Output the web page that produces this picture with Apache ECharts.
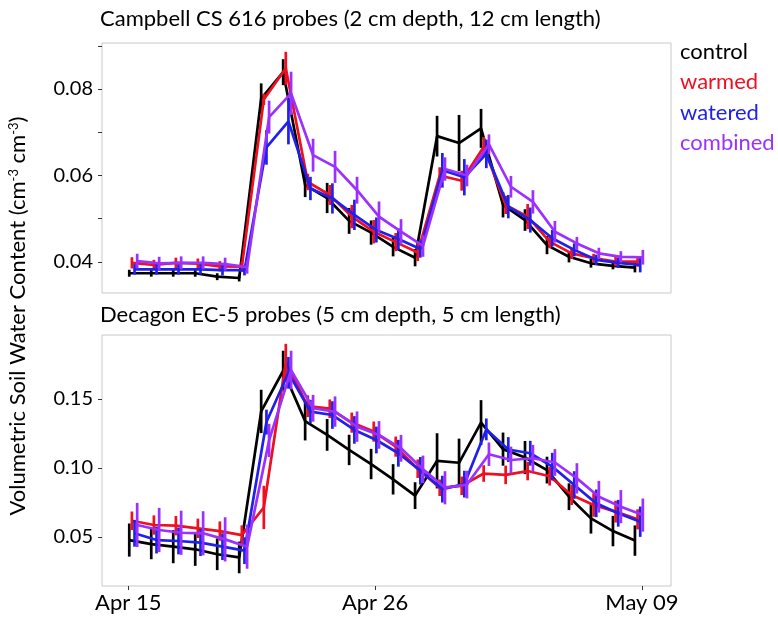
<!DOCTYPE html>
<html>
<head>
<meta charset="utf-8">
<script src="https://cdn.jsdelivr.net/npm/echarts@6/dist/echarts.min.js"></script>
<style>
html,body{margin:0;padding:0;background:#fff;}
#chart{width:778px;height:618px;}
</style>
</head>
<body>
<div id="chart"></div>
<script>
// ---- data ----
const pointIndex = [0,1,2,3,4,5,6,7,8,9,10,11,12,13,14,15,16,17,18,19,20,21,22,23];
const dateTickLabels = ['Apr 15', 'Apr 26', 'May 09'];
const dateTickPos = [-0.225, 11.0, 23.14];
const treatments = ['control', 'warmed', 'watered', 'combined'];

const panelTitles = ['Campbell CS 616 probes (2 cm depth, 12 cm length)', 'Decagon EC-5 probes (5 cm depth, 5 cm length)'];
const topTickLabels = [0.04, 0.06, 0.08];
const topTickMarks = [0.04, 0.05, 0.06, 0.07, 0.08, 0.09];
const botTickLabels = [0.05, 0.10, 0.15];

// Campbell (top panel)
const controlTop = [0.0374,0.0374,0.0374,0.0374,0.0366,0.0363,0.0778,0.0839,0.0578,0.0548,0.0495,0.0468,0.0435,0.0410,0.0691,0.0675,0.0709,0.0532,0.0497,0.0439,0.0412,0.0397,0.0391,0.0387];
const controlTopErr = [0.0008,0.0008,0.0008,0.0008,0.0008,0.0008,0.0035,0.0030,0.0028,0.0035,0.0030,0.0028,0.0022,0.0020,0.0047,0.0065,0.0045,0.0029,0.0025,0.0021,0.0013,0.0010,0.0008,0.0011];
const warmedTop = [0.0398,0.0393,0.0398,0.0396,0.0390,0.0389,0.0776,0.0848,0.0585,0.0555,0.0505,0.0470,0.0446,0.0422,0.0600,0.0588,0.0666,0.0532,0.0505,0.0447,0.0420,0.0409,0.0401,0.0401];
const warmedTopErr = [0.0013,0.0012,0.0012,0.0012,0.0012,0.0012,0.0013,0.0038,0.0019,0.0023,0.0027,0.0027,0.0021,0.0020,0.0019,0.0023,0.0023,0.0021,0.0029,0.0015,0.0013,0.0010,0.0011,0.0012];
const wateredTop = [0.0383,0.0383,0.0383,0.0383,0.0381,0.0381,0.0665,0.0725,0.0570,0.0547,0.0509,0.0474,0.0453,0.0430,0.0612,0.0596,0.0650,0.0528,0.0497,0.0455,0.0428,0.0405,0.0398,0.0393];
const wateredTopErr = [0.0012,0.0012,0.0012,0.0012,0.0012,0.0012,0.0040,0.0053,0.0027,0.0035,0.0035,0.0029,0.0025,0.0020,0.0040,0.0042,0.0033,0.0027,0.0029,0.0019,0.0015,0.0012,0.0012,0.0017];
const combinedTop = [0.0402,0.0397,0.0398,0.0398,0.0395,0.0388,0.0735,0.0790,0.0647,0.0620,0.0566,0.0505,0.0470,0.0437,0.0615,0.0600,0.0672,0.0574,0.0539,0.0470,0.0443,0.0420,0.0412,0.0411];
const combinedTopErr = [0.0017,0.0015,0.0015,0.0015,0.0015,0.0015,0.0038,0.0050,0.0038,0.0037,0.0031,0.0035,0.0029,0.0025,0.0027,0.0025,0.0023,0.0025,0.0027,0.0025,0.0015,0.0013,0.0013,0.0017];

// Decagon (bottom panel)
const controlBot = [0.0478,0.0449,0.0430,0.0411,0.0375,0.0352,0.1410,0.1705,0.1340,0.1240,0.1131,0.1029,0.0918,0.0800,0.1052,0.1038,0.1329,0.1137,0.1076,0.0985,0.0792,0.0635,0.0543,0.0474];
const controlBotErr = [0.012,0.011,0.012,0.012,0.0115,0.0115,0.0157,0.0145,0.014,0.0115,0.011,0.011,0.011,0.0097,0.020,0.0175,0.0163,0.012,0.012,0.0097,0.0097,0.011,0.011,0.011];
const warmedBot = [0.0618,0.0587,0.0582,0.0563,0.0543,0.0514,0.0714,0.1765,0.1448,0.1430,0.1329,0.1264,0.1155,0.0995,0.0857,0.0871,0.0960,0.0950,0.0978,0.0940,0.0805,0.0732,0.0684,0.0628];
const warmedBotErr = [0.0067,0.007,0.007,0.007,0.007,0.007,0.0157,0.0135,0.0079,0.0067,0.0073,0.0073,0.0073,0.0067,0.006,0.0067,0.006,0.0067,0.0067,0.0067,0.0073,0.0085,0.0079,0.0073];
const wateredBot = [0.0527,0.0478,0.0471,0.0459,0.0430,0.0401,0.1333,0.1690,0.1409,0.1384,0.1276,0.1203,0.1107,0.0980,0.0847,0.0883,0.1280,0.1134,0.1107,0.1010,0.0877,0.0744,0.0672,0.0611];
const wateredBotErr = [0.0097,0.0097,0.0097,0.0097,0.0097,0.0097,0.009,0.0115,0.0085,0.010,0.010,0.0097,0.0097,0.010,0.0097,0.0097,0.0079,0.009,0.009,0.010,0.010,0.010,0.0097,0.011];
const combinedBot = [0.0587,0.0551,0.0531,0.0527,0.0483,0.0430,0.1200,0.1710,0.1433,0.1409,0.1300,0.1240,0.1143,0.0990,0.0857,0.0880,0.1100,0.1058,0.1071,0.1040,0.0925,0.0792,0.0720,0.0659];
const combinedBotErr = [0.016,0.016,0.016,0.016,0.016,0.016,0.012,0.014,0.0097,0.011,0.011,0.010,0.0097,0.010,0.012,0.010,0.0085,0.0097,0.0097,0.0097,0.011,0.0115,0.012,0.012];

// ---- styles ----
const colors = ['#000000', '#ee1020', '#2020ee', '#9b30ff'];
const dodge = [-0.18, -0.06, 0.06, 0.18];
const FONT = 'Lato, "Open Sans", sans-serif';

const panelData = [
  [[controlTop, controlTopErr],[warmedTop, warmedTopErr],[wateredTop, wateredTopErr],[combinedTop, combinedTopErr]],
  [[controlBot, controlBotErr],[warmedBot, warmedBotErr],[wateredBot, wateredBotErr],[combinedBot, combinedBotErr]]
];

const series = [];
panelData.forEach((panel, p) => {
  panel.forEach((pair, g) => {
    const vals = pair[0], errs = pair[1];
    const color = colors[g];
    series.push({
      type: 'line', name: treatments[g], xAxisIndex: p, yAxisIndex: p,
      data: pointIndex.map(i => [i + dodge[g], vals[i]]),
      showSymbol: false, symbol: 'none', silent: true,
      lineStyle: { color: color, width: 2.7 }, itemStyle: { color: color },
      z: 2 + g
    });
    series.push({
      type: 'custom', name: treatments[g], xAxisIndex: p, yAxisIndex: p,
      data: pointIndex.map(i => [i + dodge[g], vals[i], errs[i]]),
      encode: { x: 0, y: 1 },
      itemStyle: { color: color }, silent: true, z: 2 + g,
      renderItem: function (params, api) {
        const x = api.value(0), y = api.value(1), e = api.value(2);
        const a = api.coord([x, y - e]), b = api.coord([x, y + e]);
        return { type: 'line', shape: { x1: a[0], y1: a[1], x2: b[0], y2: b[1] },
                 style: { stroke: color, lineWidth: 2.7 } };
      }
    });
  });
});

const chart = echarts.init(document.getElementById('chart'), null, { renderer: 'canvas' });
const tickStyle = { show: true, length: 4, lineStyle: { color: '#333', width: 1 } };
const noLine = { show: false, onZero: false };
chart.setOption({
  backgroundColor: '#ffffff',
  animation: false,
  title: [
    { text: panelTitles[0], left: 100, top: 8, padding: 0,
      textStyle: { fontFamily: FONT, fontSize: 22, fontWeight: 'normal', color: '#000' } },
    { text: panelTitles[1], left: 100, top: 304, padding: 0,
      textStyle: { fontFamily: FONT, fontSize: 22, fontWeight: 'normal', color: '#000' } }
  ],
  legend: {
    orient: 'vertical', left: 675, top: 41, padding: 0, itemGap: 8.3,
    itemWidth: 0, itemHeight: 0, icon: 'none', selectedMode: false,
    data: treatments.map((t, g) => ({ name: t, textStyle: { color: colors[g] } })),
    textStyle: { fontFamily: FONT, fontSize: 22, lineHeight: 22 }
  },
  grid: [
    { left: 102, right: 107, top: 43, height: 250, show: true, borderColor: '#c8c8c8', borderWidth: 1, backgroundColor: '#fff' },
    { left: 102, right: 107, top: 335, height: 251, show: true, borderColor: '#c8c8c8', borderWidth: 1, backgroundColor: '#fff' }
  ],
  xAxis: [
    { type: 'value', gridIndex: 0, min: -1.42, max: 24.46,
      axisLine: noLine, axisTick: { show: false }, axisLabel: { show: false }, splitLine: { show: false } },
    { type: 'value', gridIndex: 1, min: -1.42, max: 24.46,
      axisLine: noLine, splitLine: { show: false },
      axisTick: Object.assign({ customValues: dateTickPos }, tickStyle),
      axisLabel: { customValues: dateTickPos, margin: 6, fontFamily: FONT, fontSize: 22, color: '#000',
        formatter: v => { const k = dateTickPos.findIndex(t => Math.abs(t - v) < 1e-6); return k >= 0 ? dateTickLabels[k] : ''; } } }
  ],
  yAxis: [
    { type: 'value', gridIndex: 0, min: 0.03283, max: 0.09064,
      axisLine: noLine, splitLine: { show: false },
      axisTick: Object.assign({ customValues: topTickMarks }, tickStyle),
      axisLabel: { customValues: topTickLabels, margin: 9, fontFamily: FONT, fontSize: 20, color: '#000',
        formatter: v => v.toFixed(2) } },
    { type: 'value', gridIndex: 1, min: 0.0145, max: 0.1964,
      axisLine: noLine, splitLine: { show: false },
      axisTick: Object.assign({ customValues: botTickLabels }, tickStyle),
      axisLabel: { customValues: botTickLabels, margin: 9, fontFamily: FONT, fontSize: 20, color: '#000',
        formatter: v => v.toFixed(2) } }
  ],
  graphic: [
    { type: 'text', x: 18, y: 316, rotation: Math.PI / 2,
      style: {
        text: 'Volumetric Soil Water Content (cm{sup|-3} cm{sup|-3})',
        fill: '#000', fontFamily: FONT, fontSize: 22, align: 'center', verticalAlign: 'middle',
        rich: { sup: { fontSize: 13, fontFamily: FONT, fill: '#000', verticalAlign: 'top', lineHeight: 22, padding: [0, 0, 9, 0] } }
      } }
  ],
  series: series
});
</script>
</body>
</html>
